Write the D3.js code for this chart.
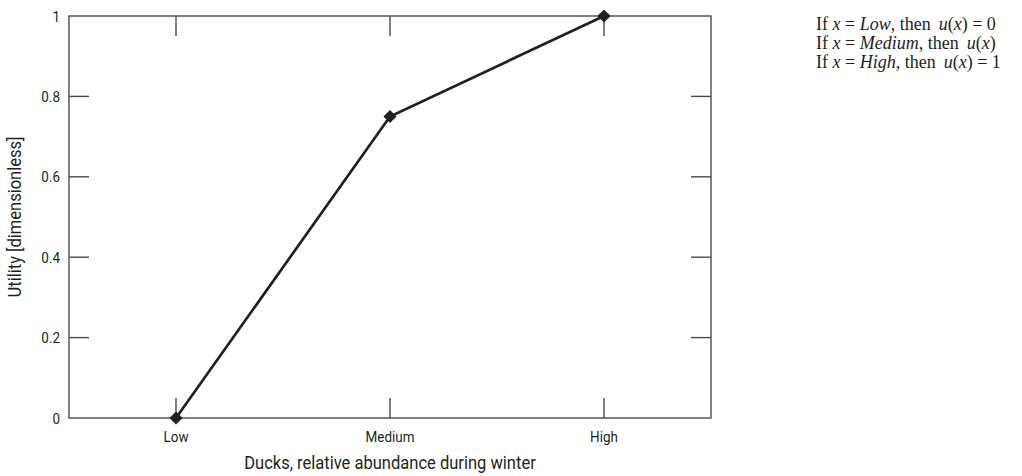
<!DOCTYPE html>
<html>
<head>
<meta charset="utf-8">
<style>
  body { margin: 0; background: #fff; }
  .axis text { font-family: "Roboto", "Liberation Sans", sans-serif; }
</style>
</head>
<body>
<svg id="chart" width="1022" height="476"></svg>
<script src="https://d3js.org/d3.v7.min.js"></script>
<script>
// data
var categories = ["Low", "Medium", "High"];
var utility = [0, 0.75, 1];
var yTicks = [0, 0.2, 0.4, 0.6, 0.8, 1];
var yTickLabels = ["0", "0.2", "0.4", "0.6", "0.8", "1"];
// right-hand note; the Medium line is cut at the page edge in the source, so only "u(x)" shows
var rules = [
  { cat: "Low", value: " = 0" },
  { cat: "Medium", value: "" },
  { cat: "High", value: " = 1" }
];

var margin = { top: 16, right: 311, bottom: 58, left: 69 };
var width = 1022 - margin.left - margin.right;
var height = 476 - margin.top - margin.bottom;
var ink = "#231f20";
var frame = "#4a4a4a";
var squeeze = 0.87; // condensed look

var svg = d3.select("#chart");
var g = svg.append("g").attr("transform", "translate(" + margin.left + "," + margin.top + ")");

var x = d3.scalePoint().domain(categories).range([0, width]).padding(0.5);
var y = d3.scaleLinear().domain([0, 1]).range([height, 0]);

// frame
g.append("rect")
  .attr("width", width).attr("height", height)
  .attr("fill", "none").attr("stroke", frame).attr("stroke-width", 1.4);

// inward ticks, all four sides
var tickLen = 20;
g.selectAll(".tb").data(categories).enter().append("line")
  .attr("x1", d => x(d)).attr("x2", d => x(d))
  .attr("y1", height).attr("y2", height - tickLen)
  .attr("stroke", frame).attr("stroke-width", 1.4);
g.selectAll(".tt").data(categories).enter().append("line")
  .attr("x1", d => x(d)).attr("x2", d => x(d))
  .attr("y1", 0).attr("y2", tickLen)
  .attr("stroke", frame).attr("stroke-width", 1.4);
var innerY = yTicks.slice(1, -1);
g.selectAll(".tl").data(innerY).enter().append("line")
  .attr("x1", 0).attr("x2", tickLen)
  .attr("y1", d => y(d)).attr("y2", d => y(d))
  .attr("stroke", frame).attr("stroke-width", 1.4);
g.selectAll(".tr").data(innerY).enter().append("line")
  .attr("x1", width).attr("x2", width - tickLen)
  .attr("y1", d => y(d)).attr("y2", d => y(d))
  .attr("stroke", frame).attr("stroke-width", 1.4);

// tick labels
var axisG = g.append("g").attr("class", "axis");
axisG.selectAll(".yl").data(yTicks).enter().append("text")
  .attr("transform", d => "translate(-9," + y(d) + ") scale(" + squeeze + ",1)")
  .attr("dy", "0.36em")
  .attr("text-anchor", "end").attr("font-size", 15.5).attr("fill", ink)
  .text((d, i) => yTickLabels[i]);
axisG.selectAll(".xl").data(categories).enter().append("text")
  .attr("transform", d => "translate(" + x(d) + "," + (height + 24) + ") scale(" + squeeze + ",1)")
  .attr("text-anchor", "middle").attr("font-size", 15.5).attr("fill", ink)
  .text(d => d);

// axis titles
axisG.append("text")
  .attr("transform", "translate(" + (width / 2) + "," + (height + 51) + ") scale(" + squeeze + ",1)")
  .attr("text-anchor", "middle").attr("font-size", 19).attr("fill", ink)
  .text("Ducks, relative abundance during winter");
axisG.append("text")
  .attr("transform", "translate(" + (-48) + "," + (height / 2) + ") rotate(-90) scale(" + squeeze + ",1)")
  .attr("text-anchor", "middle").attr("font-size", 19).attr("fill", ink)
  .text("Utility [dimensionless]");

// line and markers
var pts = categories.map((c, i) => [x(c), y(utility[i])]);
g.append("path")
  .attr("d", d3.line()(pts))
  .attr("fill", "none").attr("stroke", ink).attr("stroke-width", 2.7);
g.selectAll(".pt").data(pts).enter().append("path")
  .attr("transform", d => "translate(" + d[0] + "," + d[1] + ")")
  .attr("d", d3.symbol().type(d3.symbolDiamond2).size(110))
  .attr("fill", ink);

// rule text on the right
rules.forEach(function (r, i) {
  var t = svg.append("text")
    .attr("font-family", "'Liberation Serif', 'Times New Roman', serif")
    .attr("font-size", 18).attr("fill", ink)
    .attr("x", 816).attr("y", 30 + i * 19);
  t.append("tspan").text("If ");
  t.append("tspan").attr("font-style", "italic").text("x");
  t.append("tspan").text(" = ");
  t.append("tspan").attr("font-style", "italic").text(r.cat);
  t.append("tspan").text(", then");
  t.append("tspan").attr("dx", 8).attr("font-style", "italic").text("u");
  t.append("tspan").text("(");
  t.append("tspan").attr("font-style", "italic").text("x");
  t.append("tspan").text(")" + r.value);
});
</script>
</body>
</html>
